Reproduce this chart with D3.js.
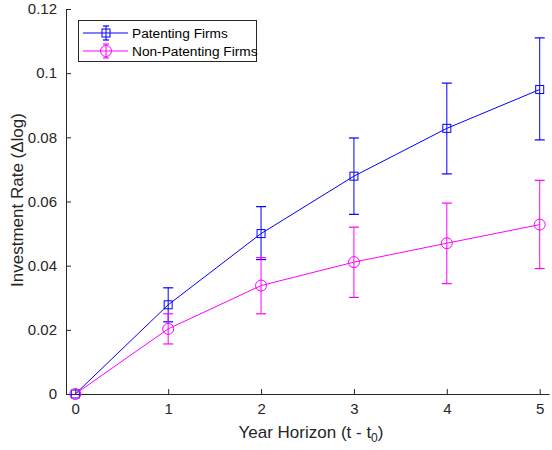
<!DOCTYPE html>
<html><head><meta charset="utf-8">
<script src="https://cdn.jsdelivr.net/npm/d3@7"></script>
<style>body{margin:0;background:#fff}svg{display:block;font-family:"Liberation Sans",Arial,sans-serif}</style>
</head><body><svg id="c" width="552" height="450"></svg>
<script>
const years = [0, 1, 2, 3, 4, 5];
const patMean = [0, 0.0278, 0.0500, 0.0679, 0.0828, 0.0949];
const patLow  = [0, 0.0225, 0.0419, 0.0560, 0.0686, 0.0792];
const patHigh = [0, 0.0331, 0.0584, 0.0798, 0.0969, 0.1110];
const nonMean = [0, 0.0203, 0.0338, 0.0411, 0.0470, 0.0528];
const nonLow  = [0, 0.0156, 0.0250, 0.0301, 0.0344, 0.0391];
const nonHigh = [0, 0.0250, 0.0425, 0.0520, 0.0595, 0.0666];
const xTicks = [0, 1, 2, 3, 4, 5];
const yTicks = [0, 0.02, 0.04, 0.06, 0.08, 0.1, 0.12];
const seriesNames = ["Patenting Firms", "Non-Patenting Firms"];

const svg = d3.select("#c");
const ax = "#262626";
const x = d3.scaleLinear().domain([-0.1, 5.1]).range([66, 549]);
const y = d3.scaleLinear().domain([0, 0.12]).range([394, 9]);

const xAxis = d3.axisBottom(x).tickValues(xTicks).tickFormat(d3.format("d")).tickSizeInner(-5).tickSizeOuter(0).tickPadding(9);
const gx = svg.append("g").attr("transform", "translate(0,394)").call(xAxis);
const yAxis = d3.axisLeft(y).tickValues(yTicks).tickFormat(d => d === 0 ? "0" : String(+d.toFixed(2))).tickSizeInner(-5).tickSizeOuter(0).tickPadding(9);
const gy = svg.append("g").attr("transform", "translate(66,0)").call(yAxis);
[gx, gy].forEach(g => {
  g.select(".domain").attr("stroke", ax).attr("stroke-width", 1);
  g.selectAll(".tick line").attr("stroke", ax);
  g.selectAll(".tick text").attr("fill", ax).attr("font-size", 15).attr("font-family", "Liberation Sans, Arial, sans-serif");
});

const series = [
  {name: seriesNames[0], mean: patMean, lo: patLow, hi: patHigh, color: "#0000ff", marker: "square"},
  {name: seriesNames[1], mean: nonMean, lo: nonLow, hi: nonHigh, color: "#ff00ff", marker: "circle"}
];

function drawMarker(g, type, cx, cy, color) {
  if (type === "square") {
    g.append("rect").attr("x", cx - 4).attr("y", cy - 4).attr("width", 8).attr("height", 8)
      .attr("fill", "none").attr("stroke", color).attr("stroke-width", 1);
  } else {
    g.append("circle").attr("cx", cx).attr("cy", cy).attr("r", 5.5)
      .attr("fill", "none").attr("stroke", color).attr("stroke-width", 1);
  }
}

series.forEach(s => {
  const g = svg.append("g");
  const pts = years.map((t, i) => [x(t), y(s.mean[i])]);
  g.append("path").attr("d", d3.line()(pts)).attr("fill", "none").attr("stroke", s.color).attr("stroke-width", 1);
  years.forEach((t, i) => {
    const cx = x(t);
    if (s.hi[i] !== s.lo[i]) {
      g.append("line").attr("x1", cx).attr("x2", cx).attr("y1", y(s.lo[i])).attr("y2", y(s.hi[i])).attr("stroke", s.color).attr("stroke-width", 1);
      [s.lo[i], s.hi[i]].forEach(v => g.append("line").attr("x1", cx - 5).attr("x2", cx + 5).attr("y1", y(v)).attr("y2", y(v)).attr("stroke", s.color).attr("stroke-width", 1.2));
    }
    drawMarker(g, s.marker, cx, y(s.mean[i]), s.color);
  });
});

// legend
const lg = svg.append("g");
lg.append("rect").attr("x", 78.5).attr("y", 20.5).attr("width", 178).attr("height", 41).attr("fill", "#fff").attr("stroke", ax).attr("stroke-width", 1);
series.forEach((s, i) => {
  const ly = 33 + i * 18;
  lg.append("line").attr("x1", 83).attr("x2", 128).attr("y1", ly).attr("y2", ly).attr("stroke", s.color).attr("stroke-width", 1);
  lg.append("line").attr("x1", 106).attr("x2", 106).attr("y1", ly - 7).attr("y2", ly + 7).attr("stroke", s.color).attr("stroke-width", 1);
  [ly - 7, ly + 7].forEach(v => lg.append("line").attr("x1", 103).attr("x2", 109).attr("y1", v).attr("y2", v).attr("stroke", s.color).attr("stroke-width", 1.2));
  drawMarker(lg, s.marker, 106, ly, s.color);
  lg.append("text").attr("x", 132).attr("y", ly + 5).attr("font-size", 13.7).attr("fill", "#000").text(s.name);
});

// axis labels
svg.append("text").attr("x", 311).attr("y", 438).attr("text-anchor", "middle").attr("font-size", 17).attr("fill", ax)
  .text("Year Horizon (t - t").append("tspan").attr("font-size", 12).attr("dy", 4).text("0")
  .select(function(){ return this.parentNode; }).append("tspan").attr("dy", -4).text(")");
svg.append("text").attr("transform", "translate(23,200) rotate(-90)").attr("text-anchor", "middle").attr("font-size", 17).attr("fill", ax)
  .text("Investment Rate (Δlog)");
</script></body></html>
